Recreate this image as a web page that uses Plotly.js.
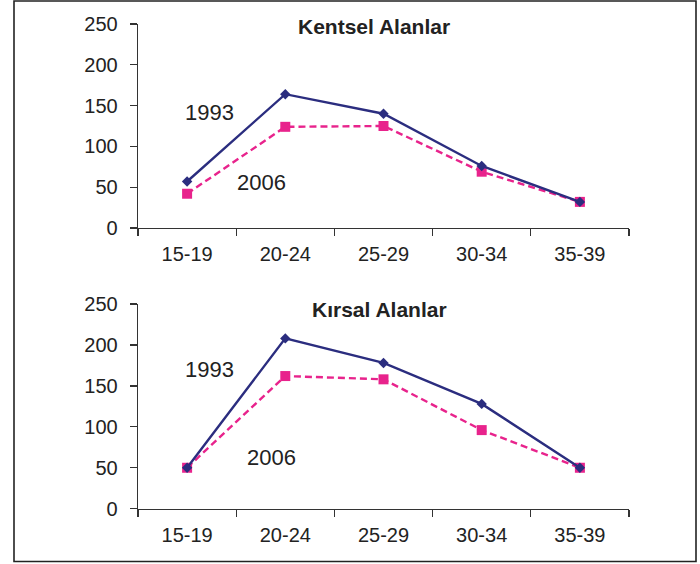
<!DOCTYPE html>
<html>
<head>
<meta charset="utf-8">
<script src="https://cdn.plot.ly/plotly-3.0.1.min.js"></script>
<style>html,body{margin:0;padding:0;background:#fff;}#chart{width:700px;height:564px;}</style>
</head>
<body>
<div id="chart"></div>
<script>
const categories = ['15-19', '20-24', '25-29', '30-34', '35-39'];
const urban1993 = [57, 164, 140, 76, 32];
const urban2006 = [42, 124, 125, 69, 32];
const rural1993 = [50, 208, 178, 128, 50];
const rural2006 = [50, 162, 158, 96, 50];
const yTicks = [0, 50, 100, 150, 200, 250];
const panelTitles = ['Kentsel Alanlar', 'Kırsal Alanlar'];
const seriesNames = ['1993', '2006'];

const navy = '#2B2D7F';
const pink = '#E8238C';
const axisColor = '#333333';
const fontFam = '"Liberation Sans", Arial, Helvetica, sans-serif';

function s1993(x, y, xa, ya) {
  return {x: categories, y: y, xaxis: xa, yaxis: ya, type: 'scatter', mode: 'lines+markers',
    name: seriesNames[0], line: {color: navy, width: 2.4},
    marker: {symbol: 'diamond', size: 8, color: navy}, cliponaxis: false};
}
function s2006(x, y, xa, ya) {
  return {x: categories, y: y, xaxis: xa, yaxis: ya, type: 'scatter', mode: 'lines+markers',
    name: seriesNames[1], line: {color: pink, width: 2.4, dash: '7px,4px'},
    marker: {symbol: 'square', size: 10, color: pink}, cliponaxis: false};
}

const data = [
  s2006(categories, urban2006, 'x', 'y'),
  s1993(categories, urban1993, 'x', 'y'),
  s2006(categories, rural2006, 'x2', 'y2'),
  s1993(categories, rural1993, 'x2', 'y2')
];

function xax(anchor) {
  return {domain: [138/700, 629/700], anchor: anchor, type: 'category', range: [-0.5, 4.5],
    showline: true, linecolor: axisColor, linewidth: 1.3, ticks: 'outside', tickson: 'boundaries',
    ticklen: 7, tickcolor: axisColor, tickwidth: 1.3, showgrid: false, zeroline: false,
    tickfont: {family: fontFam, size: 20, color: '#222'}, ticklabelstandoff: 8, fixedrange: true};
}
function yax(anchor, dom) {
  return {domain: dom, anchor: anchor, range: [0, 250], tickvals: yTicks,
    showline: true, linecolor: axisColor, linewidth: 1.3, ticks: 'outside', ticklen: 7,
    tickcolor: axisColor, tickwidth: 1.3, showgrid: false, zeroline: false,
    tickfont: {family: fontFam, size: 20, color: '#222'}, ticklabelstandoff: 8, fixedrange: true};
}

const layout = {
  width: 700, height: 564,
  margin: {l: 0, r: 0, t: 0, b: 0},
  paper_bgcolor: '#fff', plot_bgcolor: 'rgba(0,0,0,0)',
  showlegend: false,
  font: {family: fontFam, color: '#222'},
  xaxis: xax('y'),
  yaxis: yax('x', [(564-228)/564, (564-24)/564]),
  xaxis2: xax('y2'),
  yaxis2: yax('x2', [(564-508.7)/564, (564-304)/564]),
  shapes: [{type: 'rect', xref: 'paper', yref: 'paper', x0: 14/700, x1: 696/700,
    y0: 2.5/564, y1: 563/564, line: {color: '#222', width: 1.6}}],
  annotations: [
    {text: '<b>' + panelTitles[0] + '</b>', xref: 'paper', yref: 'paper', x: 374/700, y: (564-27)/564,
      xanchor: 'center', yanchor: 'middle',
      showarrow: false, font: {family: fontFam, size: 21, color: '#222'}},
    {text: '<b>' + panelTitles[1] + '</b>', xref: 'paper', yref: 'paper', x: 379/700, y: (564-309)/564,
      xanchor: 'center', yanchor: 'middle',
      showarrow: false, font: {family: fontFam, size: 21, color: '#222'}},
    {text: seriesNames[0], xref: 'x', yref: 'y', x: 0.233, y: 141, showarrow: false,
      xanchor: 'center', yanchor: 'middle', font: {family: fontFam, size: 22, color: '#222'}},
    {text: seriesNames[1], xref: 'x', yref: 'y', x: 0.76, y: 56, showarrow: false,
      xanchor: 'center', yanchor: 'middle', font: {family: fontFam, size: 22, color: '#222'}},
    {text: seriesNames[0], xref: 'x2', yref: 'y2', x: 0.233, y: 170.6, showarrow: false,
      xanchor: 'center', yanchor: 'middle', font: {family: fontFam, size: 22, color: '#222'}},
    {text: seriesNames[1], xref: 'x2', yref: 'y2', x: 0.86, y: 62, showarrow: false,
      xanchor: 'center', yanchor: 'middle', font: {family: fontFam, size: 22, color: '#222'}}
  ]
};

Plotly.newPlot('chart', data, layout, {displayModeBar: false, staticPlot: true});
</script>
</body>
</html>
